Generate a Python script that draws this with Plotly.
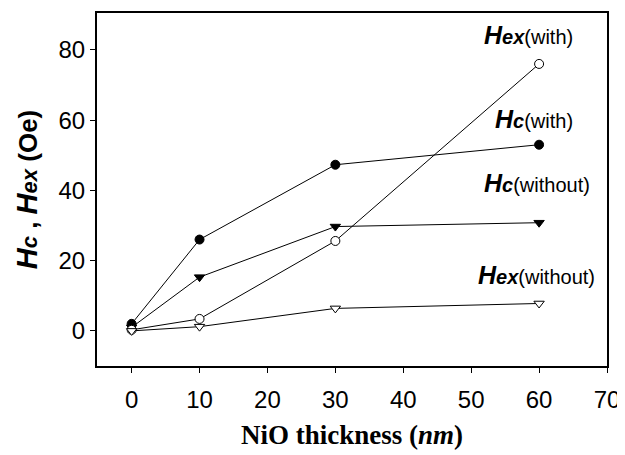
import plotly.graph_objects as go

thickness = [0, 10, 30, 60]
hc_with = [2.0, 26.0, 47.3, 53.0]
hc_without = [1.0, 15.3, 29.7, 30.8]
hex_with = [0.3, 3.4, 25.6, 76.0]
hex_without = [0.0, 1.2, 6.4, 7.8]

x_ticks = [0, 10, 20, 30, 40, 50, 60, 70]
y_ticks = [0, 20, 40, 60, 80]

labels = [
    ("ex", "(with)", 58.4, 84.3),
    ("c", "(with)", 59.3, 60.3),
    ("c", "(without)", 59.7, 42.2),
    ("ex", "(without)", 59.6, 15.8),
]

fig = go.Figure()

series = [
    (hc_with, "circle", "black"),
    (hc_without, "triangle-down", "black"),
    (hex_with, "circle", "white"),
    (hex_without, "triangle-down", "white"),
]
for vals, sym, fill in series:
    fig.add_trace(go.Scatter(
        x=thickness, y=vals, mode="lines+markers",
        line=dict(color="black", width=1),
        marker=dict(symbol=sym, size=9, color=fill,
                    line=dict(color="black", width=1)),
        showlegend=False,
    ))

for sub, tail, xv, yv in labels:
    fig.add_annotation(
        x=xv, y=yv, xref="x", yref="y", showarrow=False,
        xanchor="center", yanchor="middle",
        text=(f"<b><i>H</i></b><b><i><span style='font-size:20px'>{sub}</span></i></b>"
              f"<span style='font-size:20px'>{tail}</span>"),
        font=dict(family="Liberation Sans, Arial", size=25, color="black"),
    )

# the page body adds an 8px margin, so the figure is sized to fit the window
fig.update_layout(
    width=617, height=447,
    margin=dict(l=89, r=18, t=3, b=89),
    plot_bgcolor="white", paper_bgcolor="white",
    font=dict(family="Liberation Sans, Arial", color="black"),
)
fig.update_xaxes(
    range=[-5.1, 70], tickvals=x_ticks, ticks="outside", ticklen=5,
    tickwidth=1, tickcolor="black", ticklabelstandoff=6,
    ticklabeloverflow="allow",
    showline=True, linecolor="black", linewidth=2, mirror=True,
    showgrid=False, zeroline=False,
    tickfont=dict(size=24, family="Liberation Sans, Arial"),
    title=dict(text="<b>NiO thickness (<i>nm</i>)</b>",
               font=dict(family="Liberation Serif, Times New Roman", size=27),
               standoff=13),
)
fig.update_yaxes(
    range=[-10, 90.5], tickvals=y_ticks, ticks="outside", ticklen=5,
    tickwidth=1, tickcolor="black",
    showline=True, linecolor="black", linewidth=2, mirror=True,
    showgrid=False, zeroline=False,
    tickfont=dict(size=24, family="Liberation Sans, Arial"),
    title=dict(text=("<b><i>H</i></b><b><i><span style='font-size:22px'>c</span></i></b>"
                     "<b><span style='font-size:26px'> , </span><i>H</i></b>"
                     "<b><i><span style='font-size:22px'>ex</span></i></b>"
                     "<b><span style='font-size:26px'> (Oe)</span></b>"),
               font=dict(family="Liberation Sans, Arial", size=29),
               standoff=12),
)

fig.write_html("out.html")
